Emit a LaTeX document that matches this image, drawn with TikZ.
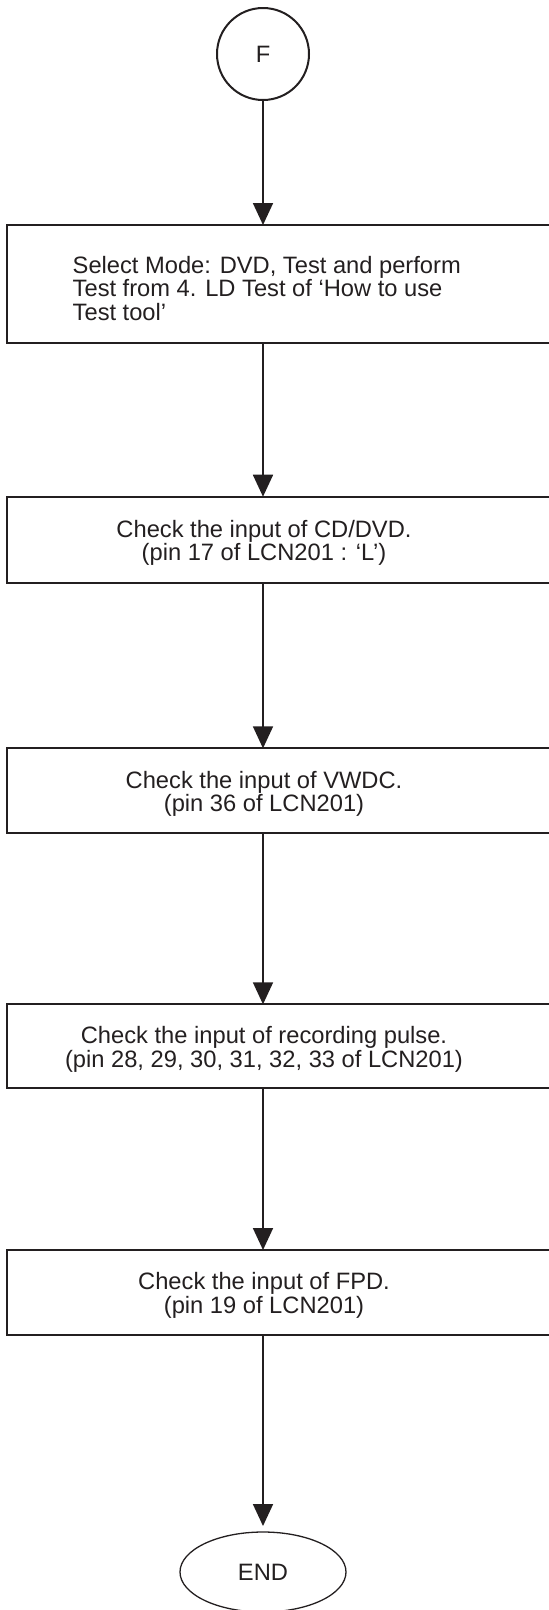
\documentclass[tikz,border=0pt]{standalone}
\usepackage{fontspec}
\setmainfont{Liberation Sans}
\usetikzlibrary{arrows.meta,shapes.geometric}
\definecolor{ink}{RGB}{35,31,32}
\begin{document}
\begin{tikzpicture}[x=1pt,y=-1pt,
  box/.style={draw=ink,line width=2pt,rectangle,inner sep=0pt,outer sep=0pt,anchor=north west,minimum width=560pt},
  txt/.style={text=ink,font=\fontsize{23.7pt}{23.4pt}\selectfont,inner sep=0pt,outer sep=0pt,align=center},
  arr/.style={draw=ink,line width=1.8pt,-{Triangle[length=22pt,width=20pt]}},
]
\useasboundingbox (0,0) rectangle (549,1610);
\node[circle,draw=ink,line width=2pt,minimum size=92pt,txt] (F) at (263,54) {\raisebox{-4pt}{F}};
\node[box,minimum height=117.7pt] (b1) at (6.7,225) {};
\node[box,minimum height=86pt] (b2) at (6.7,496.7) {};
\node[box,minimum height=85pt] (b3) at (6.7,748.3) {};
\node[box,minimum height=84pt] (b4) at (6.7,1004.3) {};
\node[box,minimum height=85pt] (b5) at (6.7,1250) {};
\node[txt,align=left,anchor=west] (t1) at (72.7,288.3) {Select Mode: DVD, Test and perform\\Test from 4. LD Test of ‘How to use\\Test tool’};
\node[txt] (t2) at (264,542.7) {Check the input of CD/DVD.\\(pin 17 of LCN201 : ‘L’)};
\node[txt] (t3) at (264,794) {Check the input of VWDC.\\(pin 36 of LCN201)};
\node[txt] (t4) at (264,1049.3) {Check the input of recording pulse.\\(pin 28, 29, 30, 31, 32, 33 of LCN201)};
\node[txt] (t5) at (264,1295.5) {Check the input of FPD.\\(pin 19 of LCN201)};
\node[ellipse,draw=ink,line width=1.3pt,minimum width=166pt,minimum height=80pt,txt] (E) at (263,1572) {END};
\draw[arr] (F.south) -- (F.south |- b1.north);
\draw[arr] (F.south |- b1.south) -- (F.south |- b2.north);
\draw[arr] (F.south |- b2.south) -- (F.south |- b3.north);
\draw[arr] (F.south |- b3.south) -- (F.south |- b4.north);
\draw[arr] (F.south |- b4.south) -- (F.south |- b5.north);
\draw[arr,shorten >=6pt] (F.south |- b5.south) -- (E.north);
\end{tikzpicture}
\end{document}
